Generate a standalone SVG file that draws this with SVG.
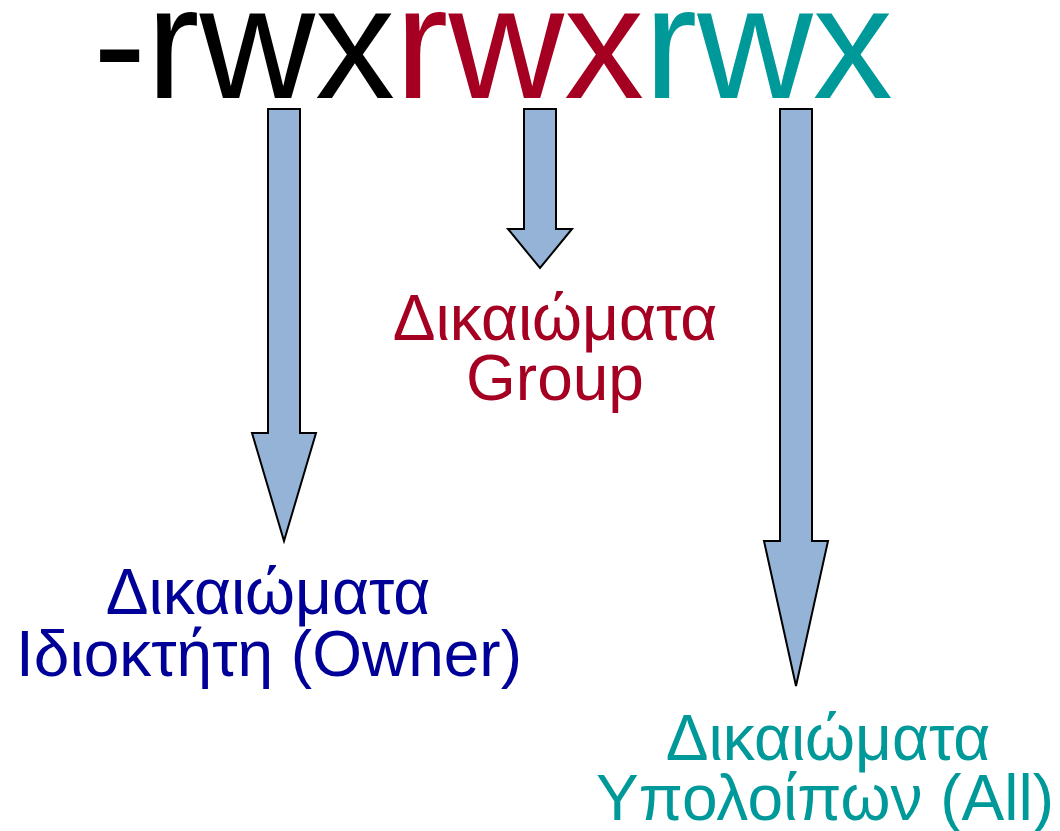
<svg xmlns="http://www.w3.org/2000/svg" width="1060" height="831" viewBox="0 0 1060 831">
  <style>
    .perm { font-family: "Liberation Sans", Arial, sans-serif; font-size: 160px; }
    .lbl { font-family: "Liberation Sans", Arial, sans-serif; font-size: 64px; text-anchor: middle; }
    .arrow { fill: #95B3D7; stroke: #000000; stroke-width: 2; stroke-linejoin: miter; }
    .owner { fill: #000099; }
    .group { fill: #A50021; }
    .all { fill: #009999; }
  </style>
  <rect width="1060" height="831" fill="#ffffff"/>

  <!-- permission string -->
  <g id="perm-string">
    <text class="perm" x="93" y="98"><tspan fill="#000000">-rwx</tspan><tspan class="group">rwx</tspan><tspan class="all">rwx</tspan></text>
  </g>

  <!-- block arrows -->
  <g id="connectors">
    <polygon id="arrow-owner" class="arrow" points="268,109 300,109 300,433 316,433 284,541 252,433 268,433"/>
    <polygon id="arrow-group" class="arrow" points="524,109 556,109 556,229 572,229 540,268 508,229 524,229"/>
    <polygon id="arrow-all" class="arrow" points="780,109 812,109 812,541 828,541 796,686 764,541 780,541"/>
  </g>

  <g id="node-group">
    <text class="lbl group" x="555" y="340">Δικαιώματα</text>
    <text class="lbl group" x="555" y="400">Group</text>
  </g>

  <g id="node-owner">
    <text class="lbl owner" x="268" y="614">Δικαιώματα</text>
    <text class="lbl owner" x="269" y="676">Ιδιοκτήτη (Owner)</text>
  </g>

  <g id="node-all">
    <text class="lbl all" x="828" y="760">Δικαιώματα</text>
    <text class="lbl all" x="825" y="820">Υπολοίπων (All)</text>
  </g>
</svg>
